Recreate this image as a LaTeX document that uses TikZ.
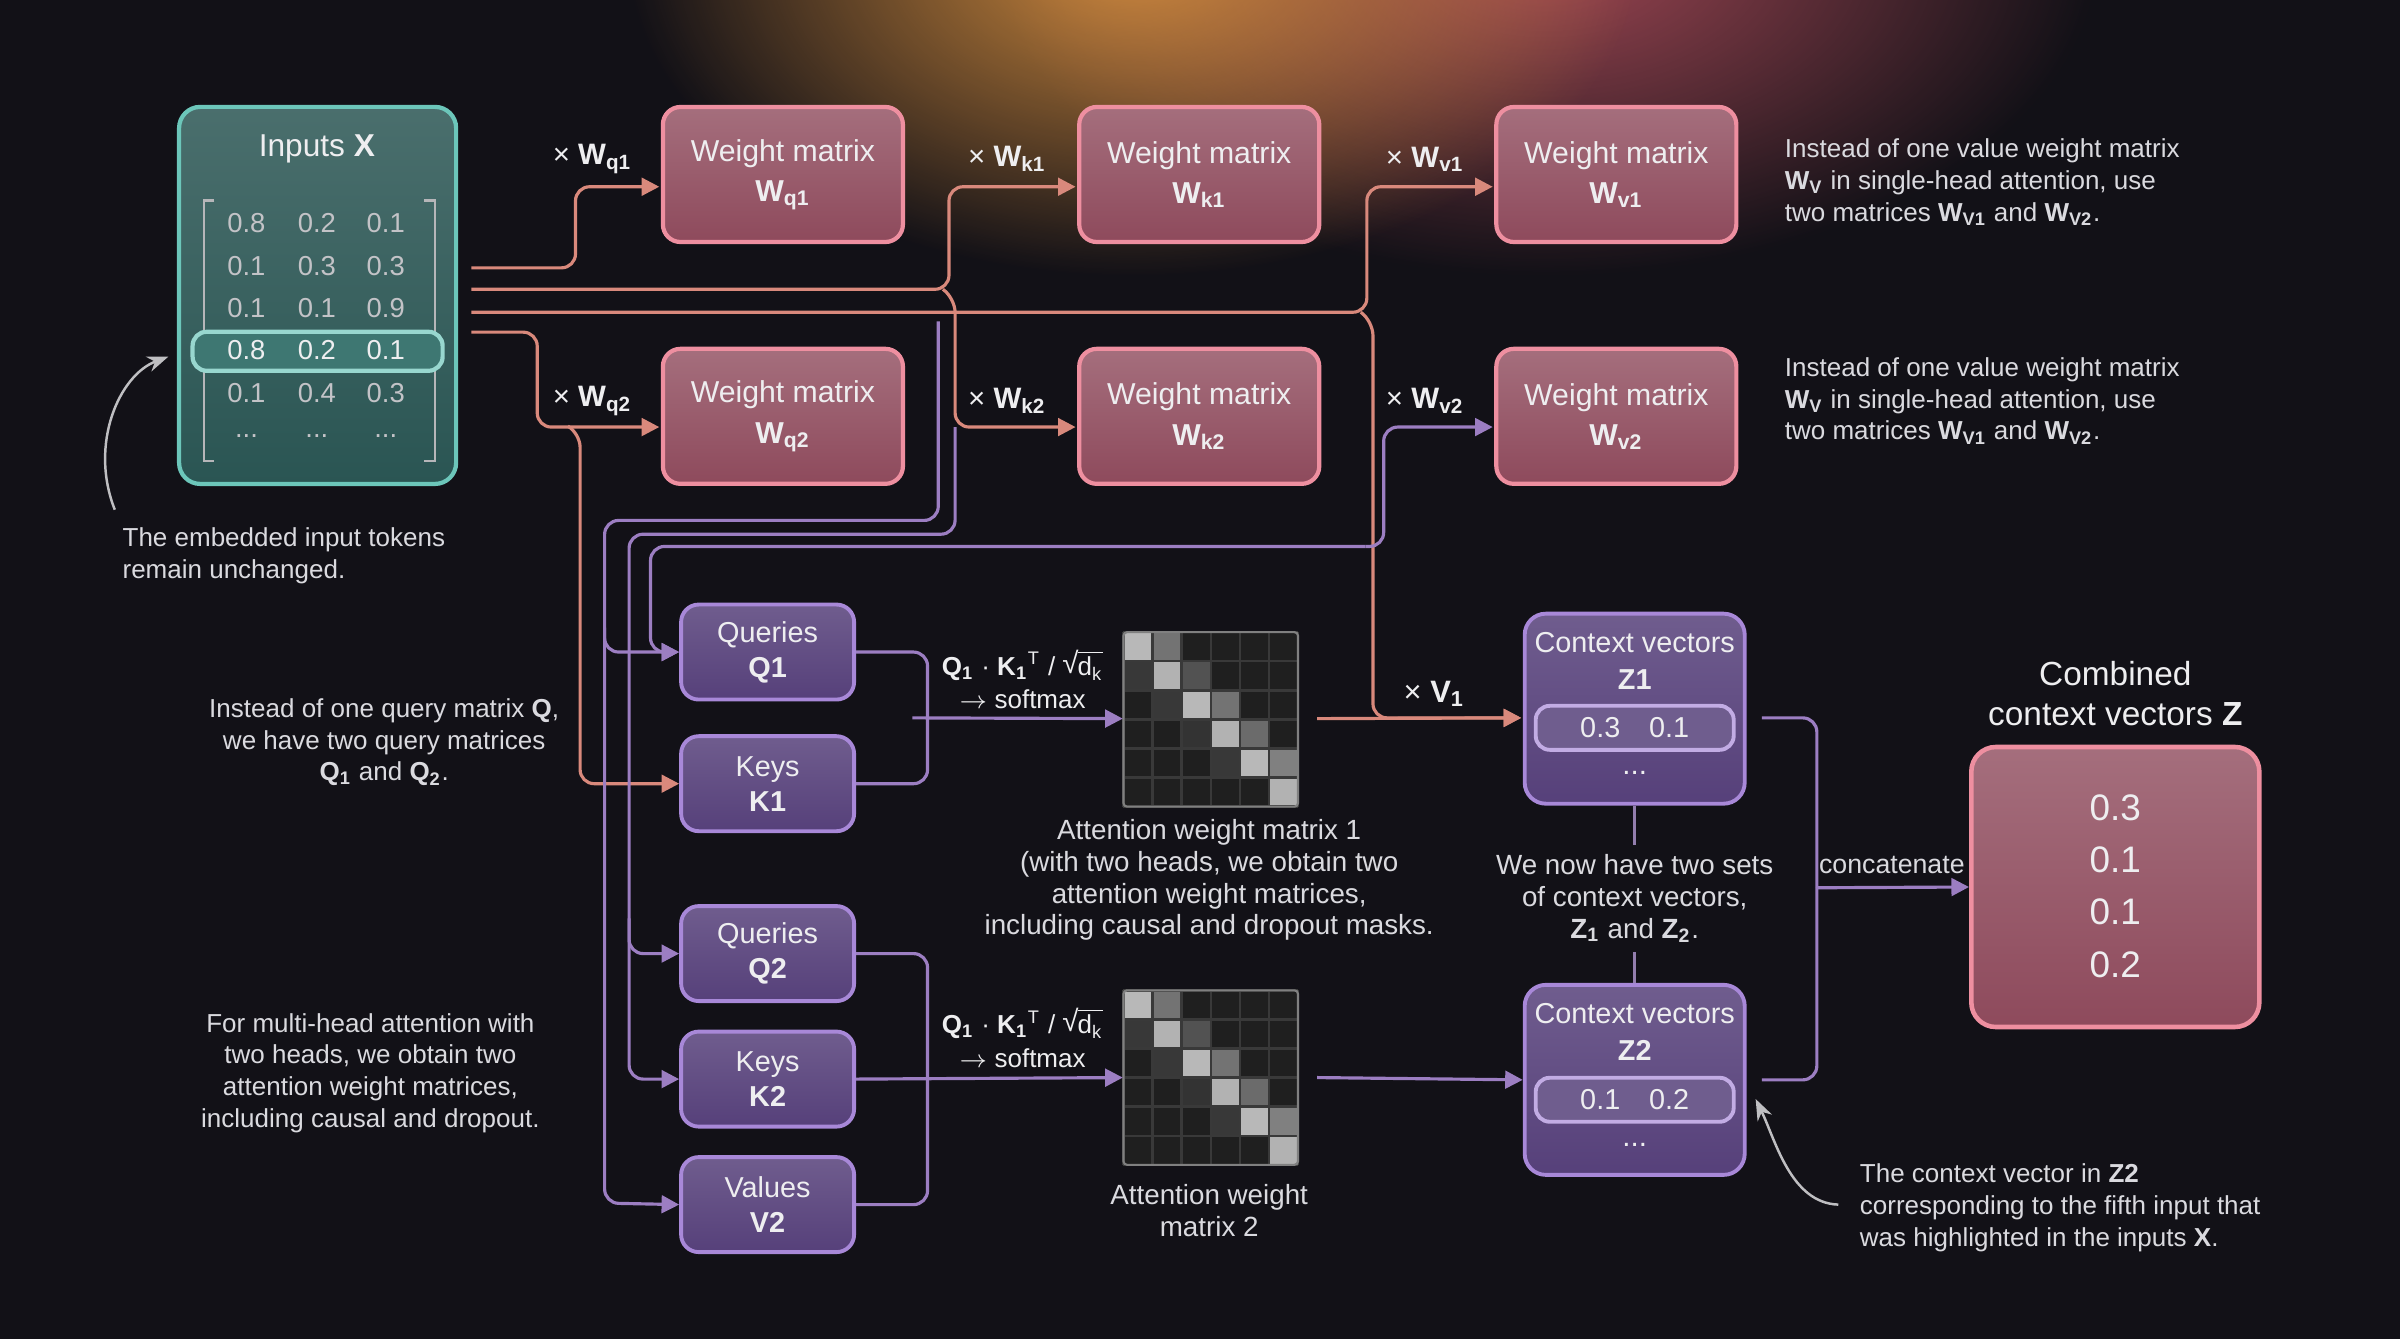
\documentclass[tikz,border=0pt]{standalone}
\usepackage{fontspec}
\setmainfont{Liberation Sans}
\usetikzlibrary{calc,arrows.meta,fadings}
\definecolor{bg}{HTML}{121117}
\definecolor{sal}{HTML}{D9897C}
\definecolor{pur}{HTML}{9C7EC2}
\definecolor{pinkfill}{HTML}{8E4A5C}
\definecolor{pinkbd}{HTML}{EE8FA0}
\definecolor{purfill}{HTML}{56407A}
\definecolor{purbd}{HTML}{A888D8}
\definecolor{tealfill}{HTML}{2A5553}
\definecolor{tealbd}{HTML}{6CC6BA}
\definecolor{txt}{HTML}{EEEEF0}
\definecolor{ann}{HTML}{DADADF}
\definecolor{glowA}{HTML}{D89040}
\definecolor{glowB}{HTML}{B8505E}
\tikzfading[name=glowfade,inner color=transparent!0,outer color=transparent!100]
\newcommand{\sbs}[1]{\textsubscript{#1}}
\newcommand{\sqdk}{\raisebox{0.6pt}{\fontsize{8.4}{9}\selectfont √}\kern-0.3pt\tikz[baseline]\node[inner sep=0pt,anchor=base,path picture={\draw[line width=0.45pt,txt] (path picture bounding box.north west)--(path picture bounding box.north east);}] {\strut d\sbs{k}};}
\tikzset{
  sl/.style={draw=sal,line width=0.9pt,rounded corners=4pt},
  pl/.style={draw=pur,line width=0.9pt,rounded corners=4pt},
  arr/.style={-{Triangle[length=5pt,width=5pt]}},
  wbox/.style={draw=pinkbd,line width=1.2pt,rounded corners=5pt,top color=pinkfill!80!white,bottom color=pinkfill,minimum width=2.40cm,minimum height=1.35cm,align=center,text=txt,font=\fontsize{8.6}{11.5}\selectfont},
  pbox/.style={draw=purbd,line width=1.1pt,rounded corners=5pt,top color=purfill!85!white,bottom color=purfill,minimum width=1.73cm,minimum height=0.95cm,align=center,text=txt,font=\fontsize{8.2}{10}\selectfont},
  zbox/.style={draw=purbd,line width=1.1pt,rounded corners=6pt,top color=purfill!85!white,bottom color=purfill,minimum width=2.20cm,minimum height=1.90cm},
  pill/.style={draw=purbd!70!white,line width=1.1pt,rounded corners=4pt,fill=purfill!85!white,minimum width=1.98cm,minimum height=0.44cm,text=txt,font=\fontsize{8.2}{9}\selectfont},
  an/.style={text=ann,font=\fontsize{7.4}{9}\selectfont,align=center},
  lab/.style={text=txt,font=\fontsize{8.4}{9}\selectfont},
  num/.style={text=ann!75!gray,font=\fontsize{7.8}{8}\selectfont},
  hm/.style={minimum size=1.745cm,inner sep=0pt},
}
\begin{document}
\begin{tikzpicture}[x=0.015306cm,y=-0.015306cm]
\fill[bg] (0,0) rectangle (1568,875);
\useasboundingbox (0,0) rectangle (1568,875);
\begin{scope}
\clip (0,0) rectangle (1568,875);
\fill[glowB,path fading=glowfade,opacity=0.85] (1010,-30) ellipse (360 and 210);
\fill[glowA,path fading=glowfade,opacity=0.95] (740,-30) ellipse (330 and 210);
\end{scope}

% ---- Inputs X
\node[draw=tealbd,line width=1.2pt,rounded corners=6pt,top color=tealfill!85!white,bottom color=tealfill,minimum width=2.77cm,minimum height=3.77cm] (X) at (207.5,193) {};
\node[lab,font=\fontsize{9}{10}\selectfont] (Xt) at (207,97) {Inputs \textbf{X}};
\draw[ann!60!gray,line width=0.6pt] (140,131) -- (133,131) -- (133,301) -- (140,301);
\draw[ann!60!gray,line width=0.6pt] (277,131) -- (284,131) -- (284,301) -- (277,301);
\node[draw=tealbd!70!white,line width=1.2pt,rounded corners=4pt,fill=tealfill!70!tealbd,minimum width=2.5cm,minimum height=0.39cm] (hl) at (207.5,229.5) {};
\foreach \y/\a/\b/\c in {146/0.8/0.2/0.1,174/0.1/0.3/0.3,201/0.1/0.1/0.9,257/0.1/0.4/0.3}{
  \node[num] at (161,\y) {\a}; \node[num] at (207,\y) {\b}; \node[num] at (252,\y) {\c};}
\node[num] at (161,285) {...}; \node[num] at (207,285) {...}; \node[num] at (252,285) {...};
\node[num,text=txt] at (161,229) {0.8}; \node[num,text=txt] at (207,229) {0.2}; \node[num,text=txt] at (252,229) {0.1};

% ---- weight matrices
\node[wbox] (wq1) at (511.5,114) {Weight matrix\\\textbf{W\sbs{q1}}};
\node[wbox] (wk1) at (783.5,114) {Weight matrix\\\textbf{W\sbs{k1}}};
\node[wbox] (wv1) at (1056,114) {Weight matrix\\\textbf{W\sbs{v1}}};
\node[wbox] (wq2) at (511.5,272) {Weight matrix\\\textbf{W\sbs{q2}}};
\node[wbox] (wk2) at (783.5,272) {Weight matrix\\\textbf{W\sbs{k2}}};
\node[wbox] (wv2) at (1056,272) {Weight matrix\\\textbf{W\sbs{v2}}};
\node[lab] at (387,104) {× \textbf{W\sbs{q1}}};
\node[lab] at (658,104) {× \textbf{W\sbs{k1}}};
\node[lab] at (931,104) {× \textbf{W\sbs{v1}}};
\node[lab] at (387,262) {× \textbf{W\sbs{q2}}};
\node[lab] at (658,262) {× \textbf{W\sbs{k2}}};
\node[lab] at (931,262) {× \textbf{W\sbs{v2}}};

% ---- purple boxes
\node[pbox] (q1) at (501.5,426) {Queries\\\textbf{Q1}};
\node[pbox] (k1) at (501.5,512) {Keys\\\textbf{K1}};
\node[pbox] (q2) at (501.5,623) {Queries\\\textbf{Q2}};
\node[pbox] (k2) at (501.5,705) {Keys\\\textbf{K2}};
\node[pbox] (v2) at (501.5,787) {Values\\\textbf{V2}};

% ---- heatmaps
\node[hm] (hm1) at (791,469.5) {};
\node[hm] (hm2) at (791,704) {};
\foreach \oy in {413,647}{
  \fill[black!88] (734,\oy) rectangle (848,\oy+114);
  \foreach \i/\j/\g in {0/0/72,0/1/45,1/0/22,1/1/70,1/2/32,2/2/72,2/3/45,2/1/22,3/3/70,3/4/42,4/4/72,4/5/50,5/5/70,3/2/20,4/3/22}{
    \fill[white!\g!black] (734+19*\j,\oy+19*\i) rectangle ++(19,19);}
  \foreach \k in {0,...,6}{
    \draw[black!55!gray,line width=0.7pt] (734+19*\k,\oy) -- (734+19*\k,\oy+114);
    \draw[black!55!gray,line width=0.7pt] (734,\oy+19*\k) -- (848,\oy+19*\k);}
  \draw[gray,line width=0.6pt,rounded corners=1pt] (734,\oy) rectangle (848,\oy+114);
}
\node[lab,font=\fontsize{7.4}{9.5}\selectfont,align=center] at (668,444) {\textbf{Q\sbs{1}} · \textbf{K\sbs{1}}\textsuperscript{T} / \sqdk\\$\rightarrow$ softmax};
\node[lab,font=\fontsize{7.4}{9.5}\selectfont,align=center] at (668,678) {\textbf{Q\sbs{1}} · \textbf{K\sbs{1}}\textsuperscript{T} / \sqdk\\$\rightarrow$ softmax};
\node[an,font=\fontsize{7.9}{9}\selectfont] at (790,575) {Attention weight matrix 1\\(with two heads, we obtain two\\attention weight matrices,\\including causal and dropout masks.};
\node[an,font=\fontsize{7.9}{9}\selectfont] at (790,791) {Attention weight\\matrix 2};

% ---- context vectors
\node[zbox] (z1) at (1068,463) {};
\node[lab,align=center,font=\fontsize{8.2}{10.5}\selectfont] at (1068,432) {Context vectors\\\textbf{Z1}};
\node[pill] (p1) at (1068,475.5) {0.3\quad 0.1};
\node[lab] at (1068,505) {...};
\node[zbox] (z2) at (1068,705.5) {};
\node[lab,align=center,font=\fontsize{8.2}{10.5}\selectfont] at (1068,674) {Context vectors\\\textbf{Z2}};
\node[pill] (p2) at (1068,718.5) {0.1\quad 0.2};
\node[lab] at (1068,748) {...};
\node[an,font=\fontsize{7.9}{9}\selectfont] (mid) at (1068,587) {We now have two sets\\of context vectors,\\\textbf{Z\sbs{1}} and \textbf{Z\sbs{2}}.};
\draw[pur!70!gray,line width=0.8pt] (z1.south) -- (1068,552);
\draw[pur!70!gray,line width=0.8pt] (1068,622) -- (z2.north);

% ---- combined
\node[draw=pinkbd,line width=1.3pt,rounded corners=7pt,top color=pinkfill!80!white,bottom color=pinkfill,minimum width=2.88cm,minimum height=2.80cm] (comb) at (1382,579.5) {};
\foreach \y/\v in {528/0.3,562/0.1,596/0.1,630/0.2}{\node[text=txt,font=\fontsize{10.5}{12}\selectfont] at (1382,\y) {\v};}
\node[text=txt,font=\fontsize{9.5}{11.5}\selectfont,align=center] at (1382,453) {Combined\\context vectors \textbf{Z}};

% ---- annotations
\node[an,align=left,anchor=west] (a1) at (72,363) {The embedded input tokens\\remain unchanged.};
\node[an,align=left,anchor=west] at (1158,119) {Instead of one value weight matrix\\\textbf{W\sbs{V}} in single-head attention, use\\two matrices \textbf{W\sbs{V1}} and \textbf{W\sbs{V2}}.};
\node[an,align=left,anchor=west] at (1158,262) {Instead of one value weight matrix\\\textbf{W\sbs{V}} in single-head attention, use\\two matrices \textbf{W\sbs{V1}} and \textbf{W\sbs{V2}}.};
\node[an] at (251,485) {Instead of one query matrix \textbf{Q},\\we have two query matrices\\\textbf{Q\sbs{1}} and \textbf{Q\sbs{2}}.};
\node[an] at (242,701) {For multi-head attention with\\two heads, we obtain two\\attention weight matrices,\\including causal and dropout.};
\node[an,align=left,anchor=west] (a5) at (1207,789) {The context vector in \textbf{Z2}\\corresponding to the fifth input that\\was highlighted in the inputs \textbf{X}.};
\draw[ann!70!gray,line width=0.7pt,-{Stealth[length=6pt]}] (75,333) .. controls (58,290) and (78,245) .. (110,233);
\draw[ann!70!gray,line width=0.7pt,-{Stealth[length=6pt]}] (1201,787) .. controls (1170,786) and (1160,745) .. (1147,718);

% ---- connectors from X
\coordinate (xo1) at (308,175);
\coordinate (xo2) at (308,189);
\coordinate (xo3) at (308,204);
\coordinate (xo4) at (308,217);
\draw[sl,arr] (xo1) -- (376,175) -- (376,122) -- ($(wq1.west)+(-1,8)$);
\draw[sl,arr] (xo2) -- (620,189) -- (620,122) -- ($(wk1.west)+(-1,8)$);
\draw[sl,arr] (616,189) -- (624,195) -- (624,279) -- ($(wk2.west)+(-1,7)$);
\draw[sl,arr] (xo3) -- (893,204) -- (893,122) -- ($(wv1.west)+(-1,8)$);
\draw[sl,arr] (889,204) -- (897,210) -- (897,469) -- ($(z1.west)+(-1,6)$);
\node[lab,font=\fontsize{8.8}{9}\selectfont] at (937,453) {× \textbf{V\sbs{1}}};
\draw[sl,arr] (xo4) -- (351,217) -- (351,279) -- ($(wq2.west)+(-1,7)$);
\draw[sl,arr] (372,279) -- (379,283) -- (379,512) -- (k1.west);
\draw[sl,arr] ($(hm1.east)+(12,0)$) -- ($(z1.west)+(-1,6)$);

% ---- purple routing
\draw[pl,arr] (613,210) -- (613,340) -- (395,340) -- (395,786) -- (v2.west);
\draw[pl,arr] (395,410) -- (395,426) -- (q1.west);
\draw[pl,arr] (624,279) -- (624,349) -- (411,349) -- (411,705) -- (k2.west);
\draw[pl,arr] (411,600) -- (411,623) -- (q2.west);
\coordinate (j3) at (892,357);
\draw[pl,arr] (j3) -- (425,357) -- (425,426) -- (q1.west);
\draw[pl,arr] (j3) -- (904,357) -- (904,279) -- ($(wv2.west)+(-1,7)$);

% ---- to heatmaps
\draw[pl] (q1.east) -- (606,426) -- (606,469);
\draw[pl] (k1.east) -- (606,512) -- (606,469);
\draw[pl,arr] (596,469) -- (hm1.west);
\draw[pl] (q2.east) -- (606,623) -- (606,705);
\draw[pl] (v2.east) -- (606,787) -- (606,705);
\draw[pl,arr] (k2.east) -- (hm2.west);
\draw[pl,arr] ($(hm2.east)+(12,0)$) -- (z2.west);

% ---- concatenate
\draw[pl] ($(z1.east)+(10,6)$) -- (1187,469) -- (1187,580);
\draw[pl] ($(z2.east)+(10,0)$) -- (1187,705.5) -- (1187,580);
\draw[pl,arr] (1187,580) -- (comb.west);
\node[an,font=\fontsize{7.6}{9}\selectfont] at (1236,565) {concatenate};
\end{tikzpicture}
\end{document}
